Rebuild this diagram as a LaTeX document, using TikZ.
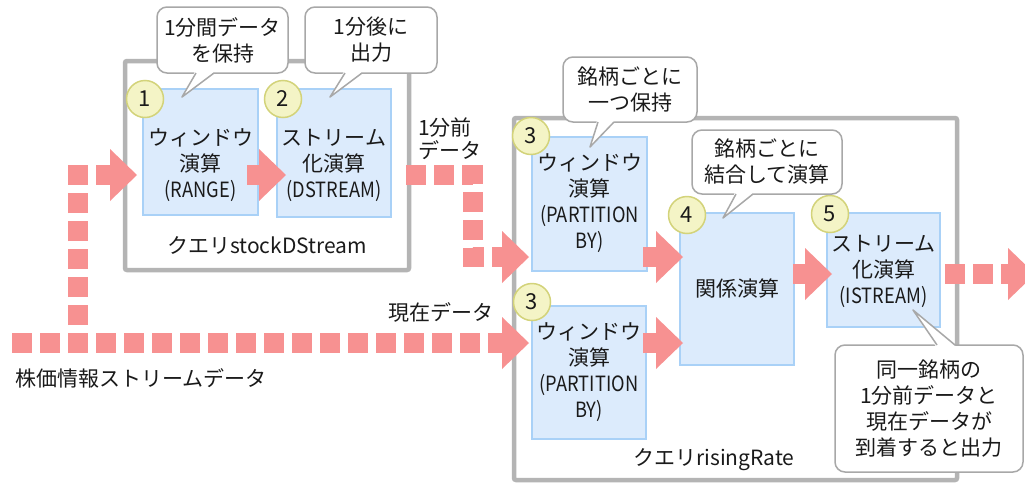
\documentclass[tikz,border=0pt]{standalone}
\usepackage{fontspec}
\setmainfont{Noto Sans CJK JP}
\newfontfamily\narlat[FakeStretch=0.87]{Noto Sans CJK JP}
\usetikzlibrary{arrows.meta,calc}
\definecolor{flowc}{HTML}{F79191}
\definecolor{boxfill}{HTML}{DCEBFC}
\definecolor{boxline}{HTML}{A9D1F7}
\definecolor{numfill}{HTML}{F4F4C6}
\definecolor{numline}{HTML}{D3D37A}
\definecolor{framec}{HTML}{B4B4B4}
\definecolor{callc}{HTML}{A8A8A8}
\definecolor{txt}{HTML}{1A1A1A}
\newcommand\mytail[5]{%
  \fill[white] ($(#1)+(#2-1,#5)$) -- (#4) -- ($(#1)+(#3+1,#5)$) -- cycle;
  \draw[calline] ($(#1)+(#2,0)$) -- (#4) -- ($(#1)+(#3,0)$);}
\begin{document}
\begin{tikzpicture}[x=1pt,y=-1pt,
  every node/.style={font=\fontsize{21}{26}\selectfont, text=txt, inner sep=0pt},
  opbox/.style={draw=boxline, fill=boxfill, line width=1.5pt},
  numc/.style={circle, draw=numline, fill=numfill, line width=1.5pt, minimum size=37pt, font=\fontsize{22}{22}\selectfont},
  qframe/.style={draw=framec, line width=4.5pt, rounded corners=2pt},
  callbox/.style={draw=callc, fill=white, line width=1.5pt, rounded corners=10pt, align=center, outer sep=0pt},
  calline/.style={draw=callc, line width=1.5pt, line join=round},
  optext/.style={align=center},
  dflow/.style={draw=flowc, line width=20pt, dash pattern=on 20pt off 8pt, -{Triangle[length=27pt,width=52pt,line width=0pt]}},
  sflow/.style={draw=flowc, line width=20pt, -{Triangle[length=27pt,width=52pt,line width=0pt]}},
]
\useasboundingbox (0,0) rectangle (1025,485);
\fill[white] (0,0) rectangle (1025,485);

% query frames
\node[qframe, minimum width=284pt, minimum height=209pt] (q1) at (267,165.5) {};
\node[qframe, minimum width=443pt, minimum height=362pt] (q2) at (735.5,299) {};
\node (q1l) at (267,245) {クエリstockDStream};
\node (q2l) at (714,460) {クエリrisingRate};

% operator boxes
\node[opbox, minimum width=115pt, minimum height=126pt] (b1) at (200.5,152) {};
\node[opbox, minimum width=114pt, minimum height=128pt] (b2) at (334,153) {};
\node[opbox, minimum width=115pt, minimum height=134pt] (b3a) at (589.5,204) {};
\node[opbox, minimum width=114pt, minimum height=133pt] (b3b) at (589,372.5) {};
\node[opbox, minimum width=114pt, minimum height=152pt] (b4) at (737,289) {};
\node[opbox, minimum width=113pt, minimum height=114pt] (b5) at (883.5,270) {};

\node[optext] (t1) at (200.5,165) {ウィンドウ\\演算\\{\narlat (RANGE)}};
\node[optext] (t2) at (334,165) {ストリーム\\化演算\\{\narlat (DSTREAM)}};
\node[optext] (t3a) at (589.5,203) {ウィンドウ\\演算\\{\narlat (PARTITION}\\{\narlat BY)}};
\node[optext] (t3b) at (589,372) {ウィンドウ\\演算\\{\narlat (PARTITION}\\{\narlat BY)}};
\node[optext] (t4) at (737,288) {関係演算};
\node[optext] (t5) at (883.5,271) {ストリーム\\化演算\\{\narlat (ISTREAM)}};

% free labels
\node[anchor=west, align=left, font=\fontsize{21}{23.5}\selectfont] (lprev) at (418,138.5) {1分前\\データ};
\node (lnow) at (441,312) {現在データ};
\node[anchor=west] (lsrc) at (15,378) {株価情報ストリームデータ};

% flow coordinates
\coordinate (src) at (12,343);
\coordinate (br) at (78,353);
\coordinate (bt) at (78,175);
\coordinate (m1) at (473,175);
\coordinate (m2) at (473,257);
\coordinate (out) at (1035,274);

% dotted flows
\draw[dflow, shorten >=2.25pt] (src) -- (b3b.west |- src);
\draw[dflow, shorten >=5.25pt] (br) -- (bt) -- (b1.west |- bt);
\draw[dflow, shorten >=2.25pt] ($(b2.east |- m1)+(14.25,0)$) -- (m1) -- (m2) -- (b3a.west |- m2);
\draw[dflow] ($(b5.east |- out)+(4.25,0)$) -- (out);

% solid flows
\draw[sflow] ($(b1.east |- bt)+(-11.75,0)$) -- ($(b2.west |- bt)+(9.75,0)$);
\draw[sflow] ($(b3a.east |- m2)+(-4.75,0)$) -- ($(b4.west |- m2)+(3.75,0)$);
\draw[sflow] ($(b3b.east |- src)+(-3.75,0)$) -- ($(b4.west |- src)+(3.75,0)$);
\draw[sflow] ($(b4.east |- out)+(-1.75,0)$) -- ($(b5.west |- out)+(5.75,0)$);

% number circles
\node[numc] (n1) at (145,99) {1};
\node[numc] (n2) at (283,99) {2};
\node[numc] (n3a) at (531,136) {3};
\node[numc] (n3b) at (532,302) {3};
\node[numc] (n4) at (687,215) {4};
\node[numc] (n5) at (830,214) {5};

% callouts
\node[callbox, minimum width=131pt, minimum height=66pt] (c1) at (222.5,40) {1分間データ\\を保持};
\node[callbox, minimum width=132pt, minimum height=66pt] (c2) at (371,40) {1分後に\\出力};
\node[callbox, minimum width=134pt, minimum height=65pt] (c3) at (630,89.5) {銘柄ごとに\\一つ保持};
\node[callbox, minimum width=150pt, minimum height=64pt] (c4) at (767,162) {銘柄ごとに\\結合して演算};
\node[callbox, minimum width=188pt, minimum height=127pt] (c5) at (929,408.5) {同一銘柄の\\1分前データと\\現在データが\\到着すると出力};

\coordinate (p1) at (182,97);
\coordinate (p2) at (330,97);
\coordinate (p3) at (590,147);
\coordinate (p4) at (723,218);
\coordinate (p5) at (913,310);
\mytail{c1.south}{-26.5}{-8.5}{p1}{-1.6}
\mytail{c2.south}{-26}{-9}{p2}{-1.6}
\mytail{c3.south}{-32}{-16}{p3}{-1.6}
\mytail{c4.south}{-31}{-14}{p4}{-1.6}
\mytail{c5.north}{8}{26}{p5}{1.6}
\end{tikzpicture}
\end{document}
